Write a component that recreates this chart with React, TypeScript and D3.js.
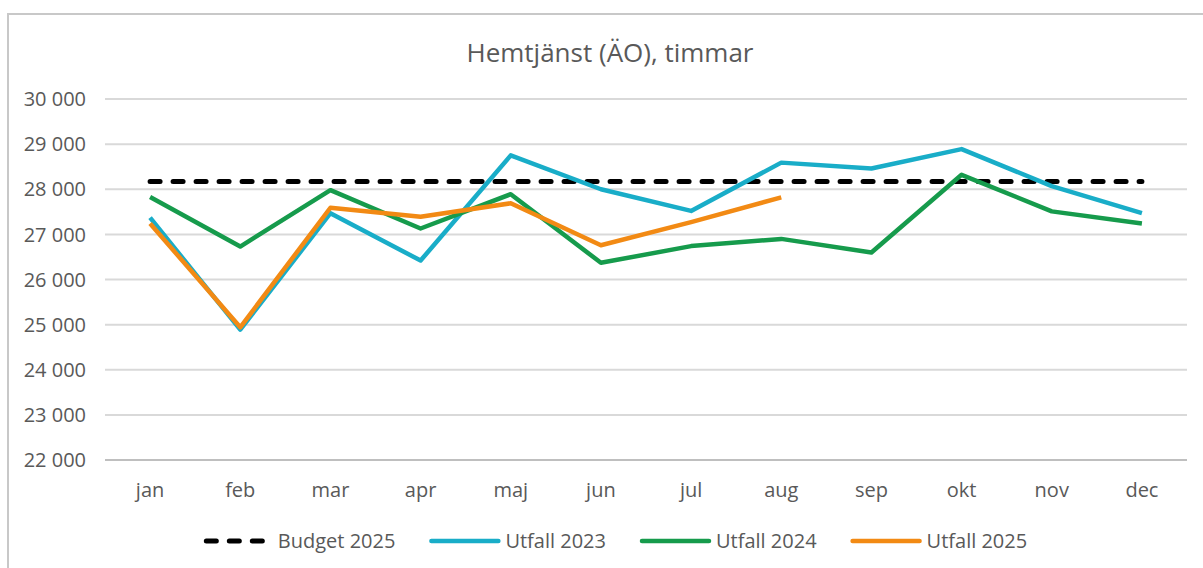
import React from 'react';
import * as d3 from 'd3';

const months = ['jan', 'feb', 'mar', 'apr', 'maj', 'jun', 'jul', 'aug', 'sep', 'okt', 'nov', 'dec'];
const budget2025 = [28170, 28170, 28170, 28170, 28170, 28170, 28170, 28170, 28170, 28170, 28170, 28170];
const utfall2023 = [27370, 24890, 27470, 26420, 28750, 28000, 27520, 28590, 28460, 28890, 28070, 27470];
const utfall2024 = [27830, 26730, 27980, 27130, 27890, 26370, 26740, 26900, 26600, 28320, 27510, 27240];
const utfall2025 = [27240, 24940, 27590, 27390, 27690, 26760, 27270, 27820];
const yTicks = [22000, 23000, 24000, 25000, 26000, 27000, 28000, 29000, 30000];

type Series = { name: string; values: number[]; color: string; dashed: boolean };

const series: Series[] = [
  { name: 'Budget 2025', values: budget2025, color: '#000000', dashed: true },
  { name: 'Utfall 2023', values: utfall2023, color: '#19ADC8', dashed: false },
  { name: 'Utfall 2024', values: utfall2024, color: '#169B4C', dashed: false },
  { name: 'Utfall 2025', values: utfall2025, color: '#F28A14', dashed: false },
];

const W = 1203;
const H = 568;
const FONT = '"Open Sans", sans-serif';
const TEXT = '#595959';

function drawChart(el: SVGSVGElement) {
  const svg = d3.select(el);
  svg.selectAll('*').remove();

  // chart frame (only left/top visible in the crop)
  svg.append('rect')
    .attr('x', 8).attr('y', 14)
    .attr('width', 1300).attr('height', 700)
    .attr('fill', '#fff')
    .attr('stroke', '#c8c8c8')
    .attr('stroke-width', 2);

  const x = d3.scaleBand<string>().domain(months).range([105, 1187]).padding(0);
  const cx = (m: string) => (x(m) ?? 0) + x.bandwidth() / 2;
  const y = d3.scaleLinear([22000, 30000], [460, 99]);
  const fmt = (v: number) => d3.format(',')(v).replace(/,/g, ' ');

  svg.append('text')
    .attr('x', 610).attr('y', 62)
    .attr('text-anchor', 'middle')
    .attr('font-family', FONT).attr('font-size', 26)
    .attr('fill', TEXT)
    .text('Hemtjänst (ÄO), timmar');

  // gridlines
  svg.append('g')
    .selectAll('line')
    .data(yTicks)
    .enter()
    .append('line')
    .attr('x1', 105).attr('x2', 1187)
    .attr('y1', (d) => y(d)).attr('y2', (d) => y(d))
    .attr('stroke', (d) => (d === 22000 ? '#bfbfbf' : '#d9d9d9'))
    .attr('stroke-width', 2);

  svg.append('g')
    .selectAll('text')
    .data(yTicks)
    .enter()
    .append('text')
    .attr('x', 86)
    .attr('y', (d) => y(d))
    .attr('dy', '0.36em')
    .attr('text-anchor', 'end')
    .attr('font-family', FONT).attr('font-size', 20)
    .attr('fill', TEXT)
    .text((d) => fmt(d));

  svg.append('g')
    .selectAll('text')
    .data(months)
    .enter()
    .append('text')
    .attr('x', (d) => cx(d))
    .attr('y', 497)
    .attr('text-anchor', 'middle')
    .attr('font-family', FONT).attr('font-size', 20)
    .attr('fill', TEXT)
    .text((d) => d);

  const line = d3.line<number>()
    .x((_, i) => cx(months[i]))
    .y((d) => y(d));

  series.forEach((s) => {
    svg.append('path')
      .attr('d', line(s.values) ?? '')
      .attr('fill', 'none')
      .attr('stroke', s.color)
      .attr('stroke-width', s.dashed ? 5 : 4.5)
      .attr('stroke-linecap', s.dashed ? 'round' : 'butt')
      .attr('stroke-linejoin', 'round')
      .attr('stroke-dasharray', s.dashed ? '10 13' : null);
  });

  // legend, laid out left to right then centred
  const legend = svg.append('g');
  let pos = 0;
  series.forEach((s) => {
    const g = legend.append('g').attr('transform', `translate(${pos},0)`);
    g.append('line')
      .attr('x1', s.dashed ? 2.5 : 0).attr('x2', s.dashed ? 62 : 67)
      .attr('y1', 0).attr('y2', 0)
      .attr('stroke', s.color)
      .attr('stroke-width', s.dashed ? 5 : 4.5)
      .attr('stroke-linecap', 'round')
      .attr('stroke-dasharray', s.dashed ? '10 13' : null);
    const t = g.append('text')
      .attr('x', 74).attr('y', 0).attr('dy', '0.35em')
      .attr('font-family', FONT).attr('font-size', 20)
      .attr('fill', TEXT)
      .text(s.name);
    const w = (t.node() as SVGTextElement).getComputedTextLength();
    pos += 74 + w + 36;
  });
  const total = pos - 36;
  legend.attr('transform', `translate(${615.5 - total / 2},541)`);
}

export default function App() {
  const ref = React.useRef<SVGSVGElement>(null);
  React.useEffect(() => {
    if (ref.current) drawChart(ref.current);
  }, []);

  return (
    <svg
      ref={ref}
      width={W}
      height={H}
      style={{ position: 'absolute', left: 0, top: 0, background: '#fff' }}
    />
  );
}
